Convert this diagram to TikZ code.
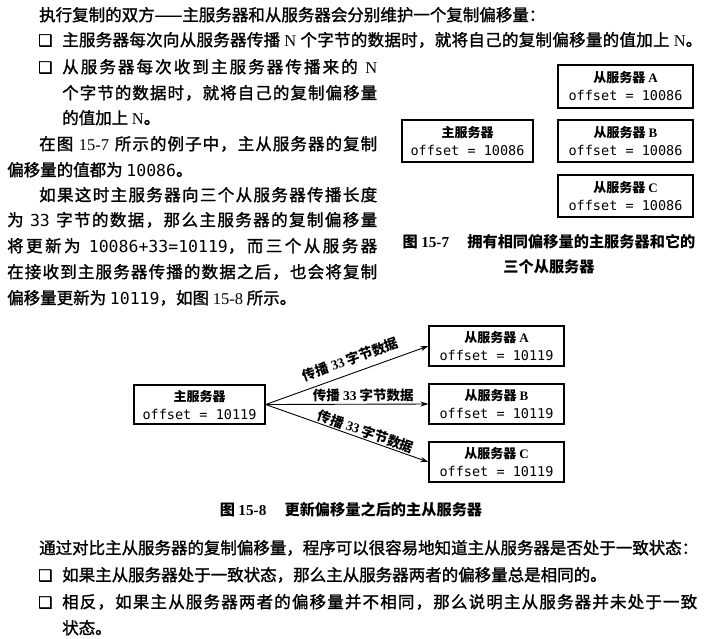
\documentclass[tikz,border=0pt]{standalone}
\usepackage{fontspec}
\setmainfont{Noto Sans CJK SC}
\setmonofont{DejaVu Sans Mono}
\newfontfamily\body{Noto Sans CJK SC}[FakeBold=1.4]
\newfontfamily\lat{Liberation Serif}
\newfontfamily\sym{DejaVu Sans}[FakeBold=1.5]
\usetikzlibrary{arrows.meta}
\newXeTeXintercharclass\mycjk
\makeatletter
\count@="3000
\loop\ifnum\count@<"3040 \XeTeXcharclass\count@=\mycjk \advance\count@ 1 \repeat
\count@="4E00
\loop\ifnum\count@<"A000 \XeTeXcharclass\count@=\mycjk \advance\count@ 1 \repeat
\count@="FF00
\loop\ifnum\count@<"FF60 \XeTeXcharclass\count@=\mycjk \advance\count@ 1 \repeat
\makeatother
\XeTeXinterchartoks\mycjk\mycjk={\hskip0pt plus 1pt minus 0.4pt\relax}
\XeTeXinterchartokenstate=1
\newcommand\jl[2]{\makebox[#1pt][s]{#2}}
\newcommand\bodyfs{\fontsize{16.5}{20}\selectfont\body}
\newcommand\mono[1]{{\fontsize{16.5}{20}\selectfont\ttfamily #1}}
\newcommand\boxmono[1]{{\fontsize{13.5}{18}\selectfont\mdseries\ttfamily #1}}
\tikzset{
  txt/.style={anchor=base west, inner sep=0pt, font=\bodyfs},
  chk/.style={anchor=base west, inner sep=0pt, font=\fontsize{16}{18}\selectfont\sym},
  srv/.style={draw, line width=1.3pt, align=center, inner sep=0pt,
    font=\fontsize{13}{18}\selectfont\bfseries},
  arr/.style={-{Stealth[length=8pt,width=5pt]}, line width=0.9pt},
  lbl/.style={font=\fontsize{13.5}{15}\selectfont\bfseries, sloped, inner sep=0pt},
  figcap/.style={font=\fontsize{15.2}{17}\selectfont\bfseries, inner sep=0pt, anchor=base}
}
\begin{document}
\begin{tikzpicture}[x=1pt,y=-1pt]
\useasboundingbox[fill=white] (0,0) rectangle (708,638);
% upper text
\node[txt] (l1) at (39,21) {执行复制的双方——主服务器和从服务器会分别维护一个复制偏移量：};
\node[chk] (c1) at (38,46) {❑};
\node[txt] (l2) at (62,46) {\jl{640}{主服务器每次向从服务器传播 {\lat N} 个字节的数据时，就将自己的复制偏移量的值加上 {\lat N}。}};
\node[chk] (c2) at (38,73) {❑};
\node[txt] (l3) at (62,73) {\jl{315}{从服务器每次收到主服务器传播来的 {\lat N}}};
\node[txt] (l4) at (62,99) {\jl{315}{个字节的数据时，就将自己的复制偏移量}};
\node[txt] (l5) at (62,124) {的值加上 {\lat N}。};
\node[txt] (l6) at (39,150) {\jl{338}{在图 {\lat 15-7} 所示的例子中，主从服务器的复制}};
\node[txt] (l7) at (7,176) {偏移量的值都为 \mono{10086}。};
\node[txt] (l8) at (39,201) {\jl{338}{如果这时主服务器向三个从服务器传播长度}};
\node[txt] (l9) at (7,226) {\jl{370}{为 \mono{33} 字节的数据，那么主服务器的复制偏移量}};
\node[txt] (l10) at (7,252) {\jl{370}{将更新为 \mono{10086+33=10119}，而三个从服务器}};
\node[txt] (l11) at (7,278) {\jl{370}{在接收到主服务器传播的数据之后，也会将复制}};
\node[txt] (l12) at (7,304) {偏移量更新为 \mono{10119}，如图 {\lat 15-8} 所示。};
% figure 15-7
\node[srv, minimum width=131pt, minimum height=42pt] (m1) at (467.5,141) {主服务器\\\boxmono{offset = 10086}};
\node[srv, minimum width=135pt, minimum height=43pt] (a1) at (625.5,86.5) {从服务器 {\lat A}\\\boxmono{offset = 10086}};
\node[srv, minimum width=135pt, minimum height=42pt] (b1) at (625.5,141) {从服务器 {\lat B}\\\boxmono{offset = 10086}};
\node[srv, minimum width=135pt, minimum height=42pt] (cc1) at (625.5,196) {从服务器 {\lat C}\\\boxmono{offset = 10086}};
\node[figcap] (cap1) at (549,247) {图 {\lat 15-7}\hspace{1.2em}拥有相同偏移量的主服务器和它的};
\node[figcap] (cap1b) at (549,272) {三个从服务器};
% figure 15-8
\node[srv, minimum width=131pt, minimum height=39pt] (m2) at (199.5,404.5) {主服务器\\\boxmono{offset = 10119}};
\node[srv, minimum width=135pt, minimum height=40pt] (a2) at (496.5,346) {从服务器 {\lat A}\\\boxmono{offset = 10119}};
\node[srv, minimum width=135pt, minimum height=40pt] (b2) at (496.5,404) {从服务器 {\lat B}\\\boxmono{offset = 10119}};
\node[srv, minimum width=135pt, minimum height=40pt] (cc2) at (496.5,462) {从服务器 {\lat C}\\\boxmono{offset = 10119}};
\draw[arr] (m2.east) -- node[lbl, above=7pt, pos=0.55] (t1) {传播 {\lat 33} 字节数据} (a2.west);
\draw[arr] (m2.east) -- node[lbl, above=2pt, pos=0.6] (t2) {传播 {\lat 33} 字节数据} (b2.west);
\draw[arr] (m2.east) -- node[lbl, above=1pt, pos=0.6] (t3) {传播 {\lat 33} 字节数据} (cc2.west);
\node[figcap] (cap2) at (351,515) {图 {\lat 15-8}\hspace{1.2em}更新偏移量之后的主从服务器};
% lower text
\node[txt] (n1) at (39,554) {\jl{659}{通过对比主从服务器的复制偏移量，程序可以很容易地知道主从服务器是否处于一致状态：}};
\node[chk] (c3) at (38,581) {❑};
\node[txt] (n2) at (62,581) {如果主从服务器处于一致状态，那么主从服务器两者的偏移量总是相同的。};
\node[chk] (c4) at (38,608) {❑};
\node[txt] (n3) at (62,608) {\jl{635}{相反，如果主从服务器两者的偏移量并不相同，那么说明主从服务器并未处于一致}};
\node[txt] (n4) at (62,634) {状态。};
\end{tikzpicture}
\end{document}
